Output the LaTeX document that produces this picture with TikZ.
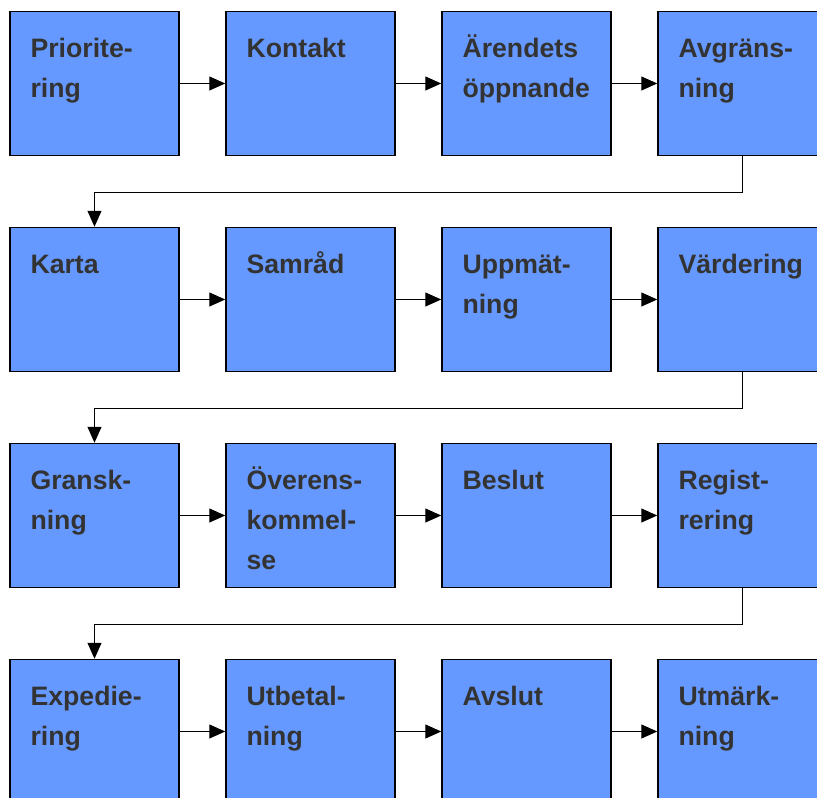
\documentclass[tikz,border=0pt]{standalone}
\usepackage{fontspec}
\setmainfont{Liberation Sans}
\usetikzlibrary{arrows.meta}
\definecolor{boxblue}{HTML}{6699FF}
\definecolor{txtgray}{HTML}{333333}
\begin{document}
\begin{tikzpicture}[x=0.75pt,y=0.75pt,
    stepbox/.style={draw=black,line width=1.1pt,fill=boxblue,minimum width=126.75pt,minimum height=108pt,inner sep=0pt},
    steptext/.style={anchor=north west,inner sep=0pt,align=left,text=txtgray,font=\fontsize{20}{30}\selectfont\bfseries,xshift=15.75pt,yshift=-13.5pt},
    arr/.style={line width=0.8pt,-{Triangle[length=12pt,width=10.5pt]}}]
  \clip (0,0) rectangle (817,798);
  % row 1
  \node[stepbox] (p1) at (94.5,714.5) {};
  \node[stepbox] (p2) at (310.5,714.5) {};
  \node[stepbox] (p3) at (526.5,714.5) {};
  \node[stepbox] (p4) at (742.5,714.5) {};
  % row 2
  \node[stepbox] (p5) at (94.5,498.5) {};
  \node[stepbox] (p6) at (310.5,498.5) {};
  \node[stepbox] (p7) at (526.5,498.5) {};
  \node[stepbox] (p8) at (742.5,498.5) {};
  % row 3
  \node[stepbox] (p9) at (94.5,282.5) {};
  \node[stepbox] (p10) at (310.5,282.5) {};
  \node[stepbox] (p11) at (526.5,282.5) {};
  \node[stepbox] (p12) at (742.5,282.5) {};
  % row 4
  \node[stepbox] (p13) at (94.5,66.5) {};
  \node[stepbox] (p14) at (310.5,66.5) {};
  \node[stepbox] (p15) at (526.5,66.5) {};
  \node[stepbox] (p16) at (742.5,66.5) {};
  % texts (the strut fixes the first line)
  \node[steptext] (t1) at (p1.north west) {\strut Priorite-\\ring};
  \node[steptext] (t2) at (p2.north west) {\strut Kontakt};
  \node[steptext] (t3) at (p3.north west) {\strut Ärendets\\öppnande};
  \node[steptext] (t4) at (p4.north west) {\strut Avgräns-\\ning};
  \node[steptext] (t5) at (p5.north west) {\strut Karta};
  \node[steptext] (t6) at (p6.north west) {\strut Samråd};
  \node[steptext] (t7) at (p7.north west) {\strut Uppmät-\\ning};
  \node[steptext] (t8) at (p8.north west) {\strut Värdering};
  \node[steptext] (t9) at (p9.north west) {\strut Gransk-\\ning};
  \node[steptext] (t10) at (p10.north west) {\strut Överens-\\kommel-\\se};
  \node[steptext] (t11) at (p11.north west) {\strut Beslut};
  \node[steptext] (t12) at (p12.north west) {\strut Regist-\\rering};
  \node[steptext] (t13) at (p13.north west) {\strut Expedie-\\ring};
  \node[steptext] (t14) at (p14.north west) {\strut Utbetal-\\ning};
  \node[steptext] (t15) at (p15.north west) {\strut Avslut};
  \node[steptext] (t16) at (p16.north west) {\strut Utmärk-\\ning};
  % arrows
  \draw[arr] (p1) -- (p2);
  \draw[arr] (p2) -- (p3);
  \draw[arr] (p3) -- (p4);
  \draw[arr] (p4.south) -- ++(0,-36.5) -| (p5.north);
  \draw[arr] (p5) -- (p6);
  \draw[arr] (p6) -- (p7);
  \draw[arr] (p7) -- (p8);
  \draw[arr] (p8.south) -- ++(0,-36.5) -| (p9.north);
  \draw[arr] (p9) -- (p10);
  \draw[arr] (p10) -- (p11);
  \draw[arr] (p11) -- (p12);
  \draw[arr] (p12.south) -- ++(0,-36.5) -| (p13.north);
  \draw[arr] (p13) -- (p14);
  \draw[arr] (p14) -- (p15);
  \draw[arr] (p15) -- (p16);
\end{tikzpicture}
\end{document}
